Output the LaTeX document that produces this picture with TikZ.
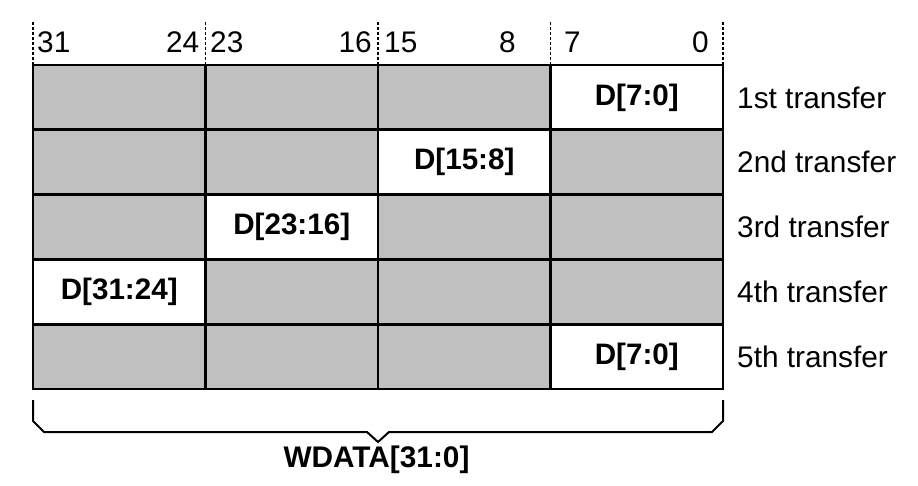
\documentclass[tikz,border=0pt]{standalone}
\usepackage{fontspec}
\setmainfont{Liberation Sans}
\definecolor{cellgray}{RGB}{192,192,192}
\begin{document}
\begin{tikzpicture}[x=1pt,y=-1pt,
  cell/.style={draw=black,line width=2.6pt,minimum width=172.5pt,minimum height=64.8pt,inner sep=0pt,outer sep=0pt,anchor=north west,font=\fontsize{29.6}{34}\selectfont\bfseries},
  graycell/.style={cell,fill=cellgray},
  whitecell/.style={cell,fill=white},
  bitlbl/.style={inner sep=0pt,font=\fontsize{29.8}{34}\selectfont},
  rowlbl/.style={inner sep=0pt,anchor=west,font=\fontsize{29.8}{34}\selectfont},
  divider/.style={line width=1.8pt,dash pattern=on 3pt off 2pt},
  bracel/.style={line width=2pt,line join=miter}]
\useasboundingbox (0,0) rectangle (918,486);
% dashed column markers
\foreach \i/\x in {0/33,1/205.5,2/378,3/550.5,4/723}{
  \coordinate (dt\i) at (\x,22);
  \coordinate (db\i) at (\x,65);
  \draw[divider] (dt\i) -- (db\i);
}
% bit numbers
\node[bitlbl,anchor=base west] (b31) at (37,53) {31};
\node[bitlbl,anchor=base east] (b24) at (199.5,53) {24};
\node[bitlbl,anchor=base west] (b23) at (210,53) {23};
\node[bitlbl,anchor=base east] (b16) at (372,53) {16};
\node[bitlbl,anchor=base west] (b15) at (384,53) {15};
\node[bitlbl,anchor=base east] (b8) at (516,53) {8};
\node[bitlbl,anchor=base west] (b7) at (564,53) {7};
\node[bitlbl,anchor=base east] (b0) at (709,53) {0};
% row 1
\node[graycell] (r1c1) at (33,65) {};
\node[graycell] (r1c2) at (205.5,65) {};
\node[graycell] (r1c3) at (378,65) {};
\node[whitecell] (r1c4) at (550.5,65) {D[7:0]};
% row 2
\node[graycell] (r2c1) at (33,129.8) {};
\node[graycell] (r2c2) at (205.5,129.8) {};
\node[whitecell] (r2c3) at (378,129.8) {D[15:8]};
\node[graycell] (r2c4) at (550.5,129.8) {};
% row 3
\node[graycell] (r3c1) at (33,194.6) {};
\node[whitecell] (r3c2) at (205.5,194.6) {D[23:16]};
\node[graycell] (r3c3) at (378,194.6) {};
\node[graycell] (r3c4) at (550.5,194.6) {};
% row 4
\node[whitecell] (r4c1) at (33,259.4) {D[31:24]};
\node[graycell] (r4c2) at (205.5,259.4) {};
\node[graycell] (r4c3) at (378,259.4) {};
\node[graycell] (r4c4) at (550.5,259.4) {};
% row 5
\node[graycell] (r5c1) at (33,324.2) {};
\node[graycell] (r5c2) at (205.5,324.2) {};
\node[graycell] (r5c3) at (378,324.2) {};
\node[whitecell] (r5c4) at (550.5,324.2) {D[7:0]};
% transfer labels
\node[rowlbl] (t1) at ([xshift=14pt]r1c4.east) {1st transfer};
\node[rowlbl] (t2) at ([xshift=14pt]r2c4.east) {2nd transfer};
\node[rowlbl] (t3) at ([xshift=14pt]r3c4.east) {3rd transfer};
\node[rowlbl] (t4) at ([xshift=14pt]r4c4.east) {4th transfer};
\node[rowlbl] (t5) at ([xshift=14pt]r5c4.east) {5th transfer};
% brace
\coordinate (bl) at (33,400);
\coordinate (br) at (723,400);
\coordinate (btip) at (378,442);
\draw[bracel] (bl) -- (33,421) -- (44,432) -- (367,432) -- (btip) -- (389,432) -- (712,432) -- (723,421) -- (br);
\node[inner sep=0pt,anchor=north,font=\fontsize{29.8}{34}\selectfont\bfseries] (wdata) at (376.5,446) {WDATA[31:0]};
\end{tikzpicture}
\end{document}
